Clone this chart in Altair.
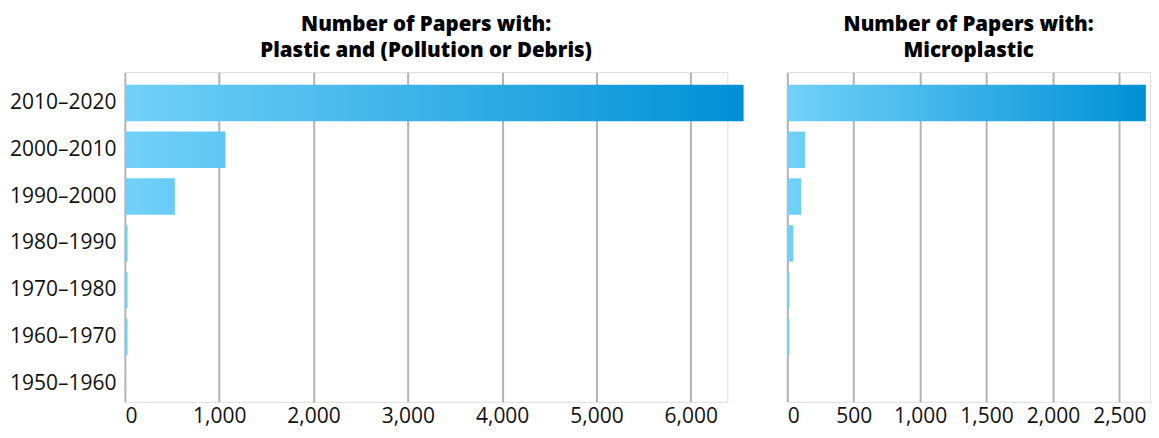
import altair as alt
import pandas as pd

decades = ["2010–2020", "2000–2010", "1990–2000", "1980–1990", "1970–1980", "1960–1970", "1950–1960"]
pollution = [6560, 1066, 530, 28, 28, 28, 0]
micro = [2700, 134, 105, 45, 16, 16, 0]

left_ticks = [0, 1000, 2000, 3000, 4000, 5000, 6000]
right_ticks = [0, 500, 1000, 1500, 2000, 2500]

title_left = ["Number of Papers with:", "Plastic and (Pollution or Debris)"]
title_right = ["Number of Papers with:", "Microplastic"]

FONT = "Open Sans"
C0 = "#72d1f8"
C1 = "#0090d5"


def panel(values, dmax, ticks, width, title, show_y):
    df = pd.DataFrame({"decade": decades, "value": values})
    top = max(values)
    yaxis = alt.Axis(title=None, domain=False, ticks=False, grid=False,
                     labelFont=FONT, labelFontSize=21, labelColor="#111",
                     labelPadding=9) if show_y else None
    yenc = alt.Y("decade:N", sort=decades,
                 scale=alt.Scale(domain=decades, paddingInner=0.22,
                                 paddingOuter=0.136, align=1),
                 axis=yaxis)
    xenc = alt.X("value:Q",
                 scale=alt.Scale(domain=[0, dmax], nice=False, zero=True),
                 axis=alt.Axis(title=None, values=ticks, format=",d", domain=False,
                               ticks=False, grid=True, gridColor="#b4b4b4",
                               gridWidth=2, labelFont=FONT, labelFontSize=21,
                               labelColor="#111", labelPadding=3.5))
    layers = []
    for d, v in zip(decades, values):
        k = top / v if v > 0 else 1
        grad = alt.Gradient(gradient="linear",
                            stops=[alt.GradientStop(color=C0, offset=0),
                                   alt.GradientStop(color=C1, offset=1)],
                            x1=0, x2=k, y1=0, y2=0)
        layers.append(
            alt.Chart(df).transform_filter(alt.datum.decade == d)
            .mark_bar(color=grad, clip=False)
            .encode(x=xenc, y=yenc)
        )
    return alt.layer(*layers).properties(
        width=width, height=330,
        title=alt.TitleParams(text=title, font=FONT, fontSize=20.5,
                              fontWeight=800, color="#000", lineHeight=26,
                              anchor="middle", frame="group", offset=11),
    )


left = panel(pollution, 6388, left_ticks, 603, title_left, True)
right = panel(micro, 2731, right_ticks, 363, title_right, False)

chart = alt.hconcat(left, right, spacing=60, bounds="flush").properties(
    padding={"left": 0, "top": 6, "right": 0, "bottom": 2.5}
).configure_view(stroke=None).configure(background="white")

chart.save("out.html", embed_options={"renderer": "svg", "actions": False})
